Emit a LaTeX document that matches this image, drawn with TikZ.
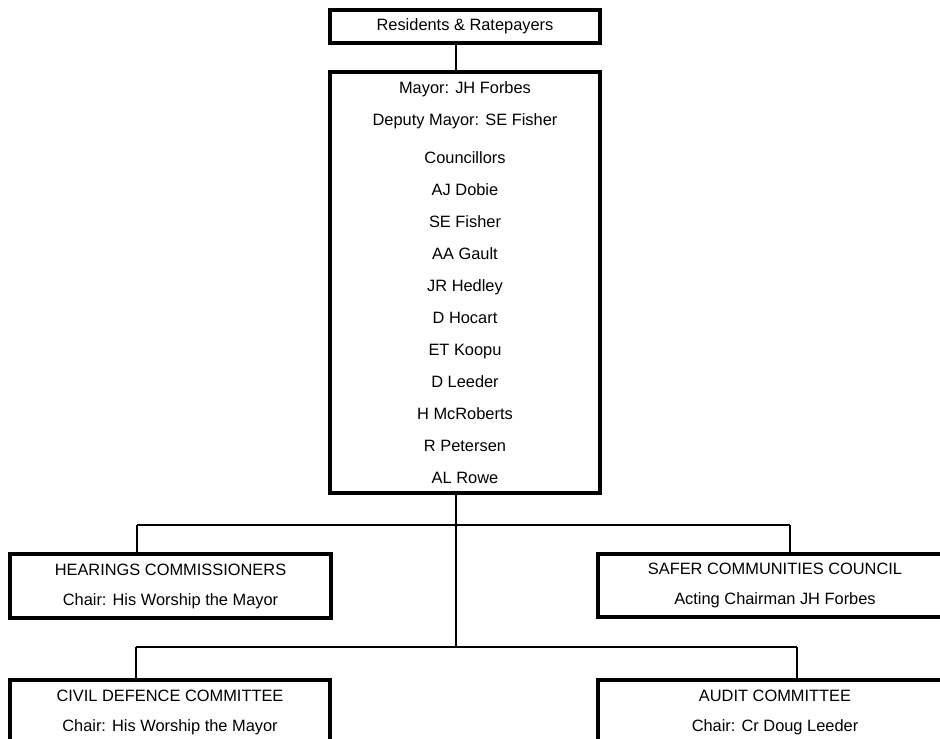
\documentclass[tikz,border=0pt]{standalone}
\usepackage{fontspec}
\setmainfont{Liberation Sans}
\begin{document}
\begin{tikzpicture}[x=1pt,y=-1pt,
  box/.style={draw=black, line width=3.6pt, rectangle, inner sep=0pt, align=center,
    font=\fontsize{16.4}{30}\selectfont},
  conn/.style={draw=black, line width=1.5pt}]
\useasboundingbox (0,0) rectangle (940,739);
\clip (0,0) rectangle (940,739);
\node[box, minimum width=270pt, minimum height=33pt] (res) at (465,26.5) {Residents \& Ratepayers};
\node[box, minimum width=270pt, minimum height=421pt, font=\fontsize{16.4}{32}\selectfont] (council) at (465,282.5)
 {Mayor: JH Forbes\\Deputy Mayor: SE Fisher\\[6pt]Councillors\\AJ Dobie\\SE Fisher\\AA Gault\\JR Hedley\\D Hocart\\ET Koopu\\D Leeder\\H McRoberts\\R Petersen\\AL Rowe};
\node[box, minimum width=321pt, minimum height=64pt] (hear) at (170.5,586) {HEARINGS COMMISSIONERS\\Chair: His Worship the Mayor};
\node[box, minimum width=354pt, minimum height=63pt] (safer) at (775,585.5) {SAFER COMMUNITIES COUNCIL\\Acting Chairman JH Forbes};
\node[box, minimum width=320pt, minimum height=64pt] (civil) at (170,712) {CIVIL DEFENCE COMMITTEE\\Chair: His Worship the Mayor};
\node[box, minimum width=354pt, minimum height=64pt] (audit) at (775,712) {AUDIT COMMITTEE\\Chair: Cr Doug Leeder};
\coordinate (spine) at (456,0);
\coordinate (a1) at (137,525);
\coordinate (b1) at (790,525);
\coordinate (a2) at (136,647);
\coordinate (b2) at (797,647);
\coordinate (j2) at (456,647);
\draw[conn] (res.south -| spine) -- (council.north -| spine);
\draw[conn] (council.south -| spine) -- (j2);
\draw[conn] (a1) -- (b1);
\draw[conn] (a2) -- (b2);
\draw[conn] (a1) -- (hear.north -| a1);
\draw[conn] (b1) -- (safer.north -| b1);
\draw[conn] (a2) -- (civil.north -| a2);
\draw[conn] (b2) -- (audit.north -| b2);
\end{tikzpicture}
\end{document}
